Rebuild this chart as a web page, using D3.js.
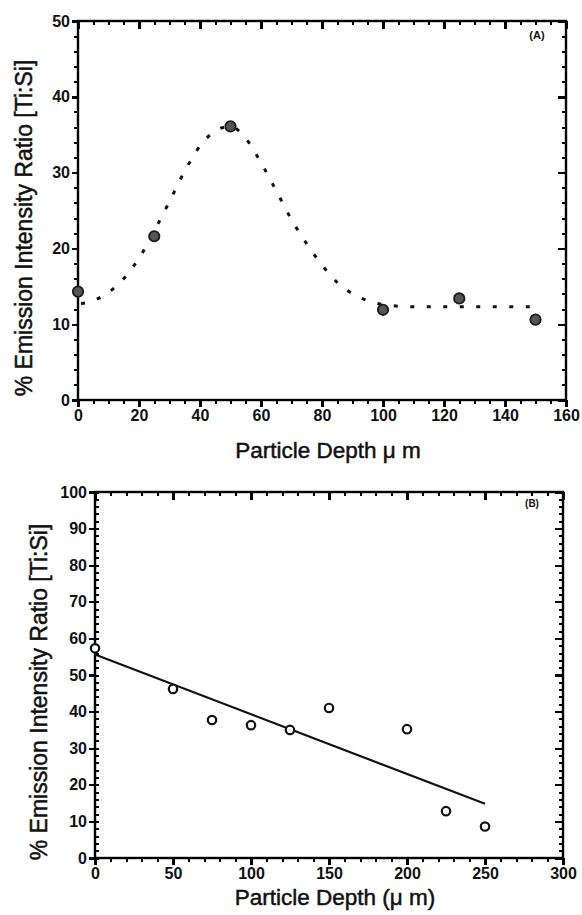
<!DOCTYPE html>
<html lang="en">
<head>
    <meta charset="UTF-8">
    <script src="https://cdnjs.cloudflare.com/ajax/libs/d3/7.8.5/d3.min.js"></script>
    <style>
        body { margin: 0; background: #fff; }
        svg { font-family: "Liberation Sans", Arial, Helvetica, sans-serif; }
    </style>
</head>
<body>
    <svg width="582" height="915"></svg>
    <script>
        // panel A: measured points and the dashed fit
        const depthA = [0, 25, 50, 100, 125, 150];
        const ratioA = [14.3, 21.6, 36.1, 11.9, 13.4, 10.6];
        const curveDepthA = [1, 5, 10, 15, 20, 25, 30, 35, 40, 45, 50, 55, 60, 65, 70, 75, 80, 85, 90, 95, 100, 110, 120, 130, 140, 150];
        const curveRatioA = [12.7, 13.1, 14.2, 16.0, 18.7, 22.3, 26.2, 30.2, 33.5, 35.5, 36.1, 34.5, 31.3, 27.6, 23.8, 20.6, 17.8, 15.5, 14.0, 13.1, 12.6, 12.3, 12.3, 12.3, 12.3, 12.3];
        const xTicksA = [0, 20, 40, 60, 80, 100, 120, 140, 160];
        const yTicksA = [0, 10, 20, 30, 40, 50];

        // panel B: open circles and the straight fit
        const depthB = [0, 50, 75, 100, 125, 150, 200, 225, 250];
        const ratioB = [57.3, 46.2, 37.7, 36.3, 35.0, 41.0, 35.2, 12.8, 8.6];
        const fitDepthB = [0, 250];
        const fitRatioB = [55.6, 14.8];
        const xTicksB = [0, 50, 100, 150, 200, 250, 300];
        const yTicksB = [0, 10, 20, 30, 40, 50, 60, 70, 80, 90, 100];

        const yTitle = '% Emission Intensity Ratio [Ti:Si]';
        const svg = d3.select('svg');

        function minorRange(lo, hi, step) {
            const out = [];
            for (let v = lo; v <= hi + 1e-9; v += step) out.push(+v.toFixed(3));
            return out;
        }

        function addAxis(g, axis, pos, values, size, labelled, pad, width) {
            const a = axis.tickValues(values).tickSizeInner(size).tickSizeOuter(0)
                .tickPadding(pad || 4);
            if (!labelled) a.tickFormat('');
            const ax = g.append('g').attr('transform', pos).call(a);
            ax.select('.domain').remove();
            ax.selectAll('.tick line')
                .attr('stroke', '#000')
                .attr('stroke-width', width || 2)
                .attr('shape-rendering', 'crispEdges');
            ax.selectAll('.tick text')
                .attr('fill', '#111')
                .style('font-size', '16px')
                .style('font-weight', 'bold');
            return ax;
        }

        function panel(cfg) {
            const x = d3.scaleLinear().domain(cfg.xDomain).range([cfg.left, cfg.right]);
            const y = d3.scaleLinear().domain(cfg.yDomain).range([cfg.bottom, cfg.top]);
            const g = svg.append('g');

            // minor ticks
            addAxis(g, d3.axisBottom(x), `translate(0,${cfg.bottom})`, cfg.xMinor, 4, false, 4, 2);
            addAxis(g, d3.axisTop(x), `translate(0,${cfg.top})`, cfg.xMinor, -4, false, 4, 2);
            addAxis(g, d3.axisLeft(y), `translate(${cfg.left},0)`, cfg.yMinor, cfg.leftMinorSize, false, 4, 2);
            addAxis(g, d3.axisRight(y), `translate(${cfg.right},0)`, cfg.yMinor, -4, false, 4, 2);
            // major ticks
            addAxis(g, d3.axisBottom(x), `translate(0,${cfg.bottom})`, cfg.xTicks, 7, true, 3, 2.4);
            addAxis(g, d3.axisTop(x), `translate(0,${cfg.top})`, cfg.xTicks, -8, false, 4, 2.4);
            addAxis(g, d3.axisLeft(y), `translate(${cfg.left},0)`, cfg.yTicks, 6, true, 2, 2.4);
            addAxis(g, d3.axisRight(y), `translate(${cfg.right},0)`, cfg.yTicks, -8, false, 4, 2.4);

            g.append('rect')
                .attr('x', cfg.left).attr('y', cfg.top)
                .attr('width', cfg.right - cfg.left).attr('height', cfg.bottom - cfg.top)
                .attr('fill', 'none').attr('stroke', '#000').attr('stroke-width', 2.4);

            g.append('text')
                .attr('x', cfg.tagX).attr('y', cfg.tagY)
                .attr('text-anchor', 'middle')
                .style('font-size', cfg.tagSize + 'px').style('font-weight', 'bold').style('fill', '#111')
                .text(cfg.tag);

            g.append('text')
                .attr('x', cfg.xTitleX).attr('y', cfg.xTitleY)
                .attr('text-anchor', 'middle')
                .style('font-size', '22.5px').style('fill', '#111')
                .style('stroke', '#111').style('stroke-width', 0.5)
                .text(cfg.xTitle);

            g.append('text')
                .attr('transform', `translate(${cfg.yTitleX},${cfg.yTitleY}) rotate(-90)`)
                .attr('text-anchor', 'middle')
                .style('font-size', '23px').style('fill', '#111')
                .style('stroke', '#111').style('stroke-width', 0.5)
                .text(yTitle);

            return { g, x, y };
        }

        // ---- panel A
        const A = panel({
            xDomain: [0, 160], yDomain: [0, 50],
            left: 78, right: 566, top: 21, bottom: 400,
            xTicks: xTicksA, yTicks: yTicksA,
            xMinor: minorRange(0, 160, 5), yMinor: minorRange(0, 50, 2),
            leftMinorSize: 4,
            tag: '(A)', tagX: 537, tagY: 39, tagSize: 11,
            xTitle: 'Particle Depth \u03bc m', xTitleX: 328, xTitleY: 458,
            yTitleX: 32, yTitleY: 228
        });

        const curveA = curveDepthA.map((d, i) => [d, curveRatioA[i]]);
        A.g.append('path')
            .datum(curveA)
            .attr('d', d3.line().x(d => A.x(d[0])).y(d => A.y(d[1])).curve(d3.curveMonotoneX))
            .attr('fill', 'none')
            .attr('stroke', '#111')
            .attr('stroke-width', 3)
            .attr('stroke-dasharray', '4,12.5');

        A.g.selectAll('circle.pt')
            .data(depthA.map((d, i) => [d, ratioA[i]]))
            .enter()
            .append('circle')
            .attr('class', 'pt')
            .attr('cx', d => A.x(d[0]))
            .attr('cy', d => A.y(d[1]))
            .attr('r', 5.2)
            .style('fill', '#555')
            .style('stroke', '#1a1a1a')
            .style('stroke-width', 1.8);

        // ---- panel B
        const B = panel({
            xDomain: [0, 300], yDomain: [0, 100],
            left: 95, right: 563, top: 492, bottom: 858,
            xTicks: xTicksB, yTicks: yTicksB,
            xMinor: minorRange(0, 300, 10), yMinor: minorRange(0, 100, 2),
            leftMinorSize: -4,
            tag: '(B)', tagX: 532, tagY: 507, tagSize: 10,
            xTitle: 'Particle Depth (\u03bc m)', xTitleX: 335, xTitleY: 905,
            yTitleX: 47, yTitleY: 692
        });

        B.g.append('path')
            .datum(fitDepthB.map((d, i) => [d, fitRatioB[i]]))
            .attr('d', d3.line().x(d => B.x(d[0])).y(d => B.y(d[1])))
            .attr('fill', 'none')
            .attr('stroke', '#111')
            .attr('stroke-width', 2.2);

        B.g.selectAll('circle.pt')
            .data(depthB.map((d, i) => [d, ratioB[i]]))
            .enter()
            .append('circle')
            .attr('class', 'pt')
            .attr('cx', d => B.x(d[0]))
            .attr('cy', d => B.y(d[1]))
            .attr('r', 4.2)
            .style('fill', '#fff')
            .style('stroke', '#111')
            .style('stroke-width', 2.2);
    </script>
</body>
</html>
